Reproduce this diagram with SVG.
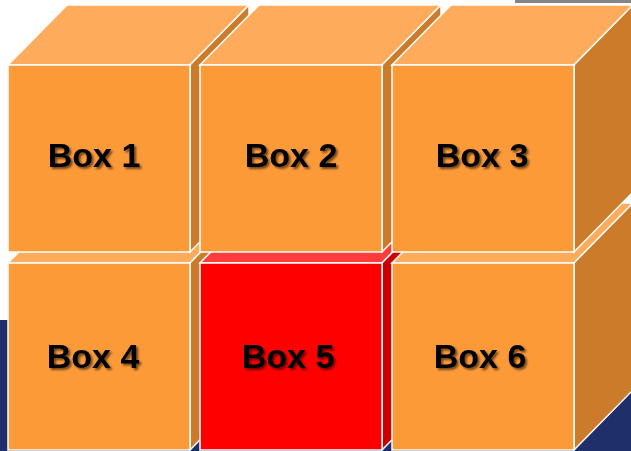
<svg xmlns="http://www.w3.org/2000/svg" width="631" height="451" viewBox="0 0 631 451">
  <defs>
    <style>
      .f { fill: #FD9A38; stroke: #FFFFFF; stroke-width: 1.5; }
      .t { fill: #FEAC5C; stroke: #FFFFFF; stroke-width: 1.5; }
      .r { fill: #CC7B2B; stroke: #FFFFFF; stroke-width: 1.5; }
      .red .f { fill: #FF0000; }
      .red .t { fill: #FF3B3B; }
      .red .r { fill: #CC0000; }
      .lbl { font-family: "Liberation Sans", Arial, sans-serif; font-weight: bold; font-size: 34px; fill: #000000; text-anchor: middle; filter: url(#sh); }
    </style>
    <filter id="sh" x="-20%" y="-30%" width="140%" height="160%">
      <feDropShadow dx="2" dy="2" stdDeviation="1.2" flood-color="#000000" flood-opacity="0.55"/>
    </filter>
  </defs>
  <rect x="0" y="0" width="631" height="451" fill="#FFFFFF"/>
  <rect x="0" y="320" width="631" height="131" fill="#1F2F6A"/>
  <rect x="515" y="0" width="116" height="3" fill="#858585"/>

  <g id="box4">
    <polygon class="t" points="8,263 190,263 249,203 67,203"/>
    <polygon class="r" points="190,263 249,203 249,390 190,450"/>
    <rect class="f" x="8" y="263" width="182" height="187"/>
    <text class="lbl" x="93" y="368">Box 4</text>
  </g>
  <g id="box5" class="red">
    <polygon class="t" points="200,263 382,263 441,203 259,203"/>
    <polygon class="r" points="382,263 441,203 441,390 382,450"/>
    <rect class="f" x="200" y="263" width="182" height="187"/>
    <text class="lbl" x="288" y="368">Box 5</text>
  </g>
  <g id="box6">
    <polygon class="t" points="392,263 574,263 633,203 451,203"/>
    <polygon class="r" points="574,263 633,203 633,390 574,450"/>
    <rect class="f" x="392" y="263" width="182" height="187"/>
    <text class="lbl" x="480" y="368">Box 6</text>
  </g>
  <g id="box1">
    <polygon class="t" points="8,65 190,65 249,5 67,5"/>
    <polygon class="r" points="190,65 249,5 249,192 190,252"/>
    <rect class="f" x="8" y="65" width="182" height="187"/>
    <text class="lbl" x="94" y="167">Box 1</text>
  </g>
  <g id="box2">
    <polygon class="t" points="200,65 382,65 441,5 259,5"/>
    <polygon class="r" points="382,65 441,5 441,192 382,252"/>
    <rect class="f" x="200" y="65" width="182" height="187"/>
    <text class="lbl" x="291" y="167">Box 2</text>
  </g>
  <g id="box3">
    <polygon class="t" points="392,65 574,65 633,5 451,5"/>
    <polygon class="r" points="574,65 633,5 633,192 574,252"/>
    <rect class="f" x="392" y="65" width="182" height="187"/>
    <text class="lbl" x="482" y="167">Box 3</text>
  </g>
  <g id="connectors"></g>
</svg>
